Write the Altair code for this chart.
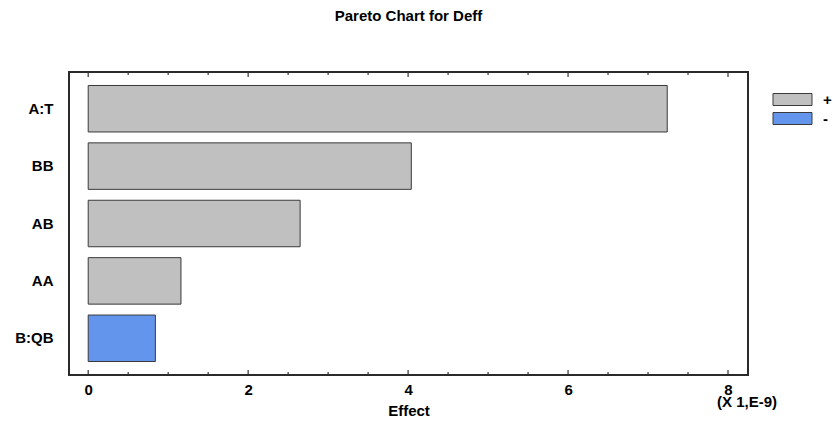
import altair as alt
import pandas as pd

# Standardized effects (units of 1E-9), sorted by magnitude
terms = ["A:T", "BB", "AB", "AA", "B:QB"]
effects = [7.24, 4.04, 2.65, 1.16, 0.84]
signs = ["+", "+", "+", "+", "-"]

major_ticks = [0, 2, 4, 6, 8]
minor_ticks = [0.5, 1, 1.5, 2.5, 3, 3.5, 4.5, 5, 5.5, 6.5, 7, 7.5]

FONT = "Liberation Sans"
W, H = 679, 303
x_dom = [-0.24, 8.25]

bars_df = pd.DataFrame({"term": terms, "effect": effects, "sign": signs})
major_df = pd.DataFrame({"v": major_ticks})
minor_df = pd.DataFrame({"v": minor_ticks})

xscale = alt.Scale(domain=x_dom, nice=False, zero=False)

# wide swatch: the path spans +-3.25 x +-1 units of (sqrt(size) / 2) px
swatch = "M-3.25,-1H3.25V1H-3.25Z"

bars = alt.Chart(bars_df).mark_bar(
    stroke="#3a3a3a", strokeWidth=1
).encode(
    x=alt.X("effect:Q", scale=xscale,
            axis=alt.Axis(values=major_ticks, format="d", title="Effect",
                          ticks=False, domain=False, grid=False,
                          labelFont=FONT, labelFontWeight="bold", labelFontSize=15,
                          labelColor="#000", labelPadding=7,
                          titleFont=FONT, titleFontWeight="bold", titleFontSize=15,
                          titleColor="#000", titlePadding=6)),
    x2=alt.datum(0),
    y=alt.Y("term:N", sort=terms, title=None,
            scale=alt.Scale(paddingInner=0.19, paddingOuter=0.235),
            axis=alt.Axis(ticks=False, domain=False, grid=False,
                          labelFont=FONT, labelFontWeight="bold", labelFontSize=15,
                          labelColor="#000", labelPadding=16)),
    color=alt.Color("sign:N",
                    scale=alt.Scale(domain=["+", "-"], range=["#c0c0c0", "#6495ed"]),
                    legend=alt.Legend(
                        title=None, orient="none", legendX=716, legendY=20,
                        symbolType=swatch, symbolSize=144,
                        symbolStrokeColor="#3a3a3a", symbolStrokeWidth=1,
                        symbolOpacity=1,
                        labelFont=FONT, labelFontWeight="bold", labelFontSize=15,
                        labelColor="#000", labelOffset=23, rowPadding=2)),
)

def tick_layer(df, y0, y1):
    return alt.Chart(df).mark_rule(color="#333", strokeWidth=1.2).encode(
        x=alt.X("v:Q", scale=xscale),
        y=alt.value(y0), y2=alt.value(y1),
    )

ticks = alt.layer(
    tick_layer(major_df, H, H - 5), tick_layer(major_df, 0, 5),
    tick_layer(minor_df, H, H - 3), tick_layer(minor_df, 0, 3),
)

title = alt.Chart(pd.DataFrame({"t": ["Pareto Chart for Deff"]})).mark_text(
    font=FONT, fontWeight="bold", fontSize=15, color="#000", baseline="middle"
).encode(text="t:N", x=alt.value(W / 2), y=alt.value(-56))

scale_note = alt.Chart(pd.DataFrame({"t": ["(X 1,E-9)"]})).mark_text(
    font=FONT, fontWeight="bold", fontSize=15, color="#000", baseline="middle"
).encode(text="t:N", x=alt.value(678), y=alt.value(330))

chart = alt.layer(bars, ticks, title, scale_note).properties(
    width=W, height=H,
    background="white",
    autosize=alt.AutoSizeParams(type="none"),
    padding={"left": 69, "top": 72, "right": 85, "bottom": 46},
).configure_view(
    stroke="#2a2a2a", strokeWidth=2
)

chart.save("out.html", embed_options={"renderer": "svg", "actions": False})
